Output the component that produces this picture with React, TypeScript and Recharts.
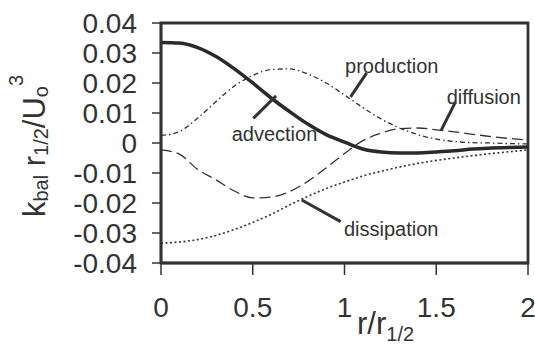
import React from 'react';
import { LineChart, Line, XAxis, YAxis, ReferenceArea, ReferenceLine, ReferenceDot } from 'recharts';

const rValues = [0, 0.1, 0.2, 0.3, 0.4, 0.5, 0.6, 0.7, 0.8, 0.9, 1.0, 1.1, 1.2, 1.3, 1.4, 1.5, 1.6, 1.7, 1.8, 1.9, 2.0];
const advection = [0.0335, 0.0333, 0.0318, 0.0288, 0.0247, 0.02, 0.015, 0.0105, 0.0063, 0.0028, 0.0003, -0.002, -0.003, -0.0033, -0.0033, -0.003, -0.0026, -0.002, -0.0017, -0.0015, -0.0013];
const production = [0.0025, 0.0038, 0.0083, 0.0138, 0.019, 0.0225, 0.0245, 0.0247, 0.023, 0.02, 0.016, 0.0118, 0.008, 0.005, 0.0028, 0.0013, 0.0005, 0.0001, 0.0, -0.0002, -0.0003];
const diffusion = [-0.0023, -0.0037, -0.0088, -0.0123, -0.016, -0.0183, -0.018, -0.0162, -0.0128, -0.0083, -0.0035, 0.0008, 0.0033, 0.0048, 0.005, 0.0044, 0.0037, 0.0029, 0.0021, 0.0015, 0.001];
const dissipation = [-0.0334, -0.033, -0.0322, -0.0308, -0.0288, -0.0265, -0.0238, -0.0207, -0.0178, -0.0152, -0.013, -0.011, -0.0094, -0.008, -0.0068, -0.0058, -0.005, -0.0042, -0.0035, -0.0029, -0.0023];

const xTicks = [0, 0.5, 1, 1.5, 2];
const yTicks = [0.04, 0.03, 0.02, 0.01, 0, -0.01, -0.02, -0.03, -0.04];

const annotLabels = ['production', 'diffusion', 'advection', 'dissipation'];
const annotAt: [number, number][] = [[1.003, 0.0234], [1.557, 0.0129], [0.385, 0.0007], [0.997, -0.031]];
const pointerFrom: [number, number][] = [[1.121, 0.0234], [1.602, 0.0134], [0.503, 0.0082], [0.979, -0.0262]];
const pointerTo: [number, number][] = [[1.033, 0.0154], [1.526, 0.0041], [0.627, 0.0157], [0.767, -0.019]];

const data = rValues.map((r, i) => ({
  r,
  advection: advection[i],
  production: production[i],
  diffusion: diffusion[i],
  dissipation: dissipation[i],
}));

const FONT = '"Liberation Sans", Arial, sans-serif';
const INK = '#333';

const AnnotText = (props: any) => {
  const vb = props.viewBox || { x: 0, y: 0 };
  return (
    <text x={vb.x} y={vb.y} fontSize={20} fontFamily={FONT} fill={INK} textAnchor="start">
      {props.text}
    </text>
  );
};

const XLabel = (props: any) => {
  const vb = props.viewBox || { x: 161, y: 263, width: 367, height: 82 };
  return (
    <text x={vb.x + 196} y={vb.y + 71} fontFamily={FONT} fill={INK} textAnchor="start">
      <tspan fontSize={31}>r/r</tspan>
      <tspan fontSize={20} dy={7}>1/2</tspan>
    </text>
  );
};

const YLabel = (props: any) => {
  const vb = props.viewBox || { x: 0, y: 23, width: 161, height: 240 };
  const cx = vb.x + 45;
  const cy = vb.y + 123;
  return (
    <text transform={`translate(${cx}, ${cy}) rotate(-90)`} x={0} y={0} fontFamily={FONT} fill={INK} textAnchor="middle">
      <tspan fontSize={31}>k</tspan>
      <tspan fontSize={20} dy={3}>bal</tspan>
      <tspan fontSize={31} dy={-3}> r</tspan>
      <tspan fontSize={20} dy={3}>1/2</tspan>
      <tspan fontSize={31} dy={-3}>/U</tspan>
      <tspan fontSize={20} dy={3}>o</tspan>
      <tspan fontSize={20} dy={-25}>3</tspan>
    </text>
  );
};

export default function App() {
  return (
    <div style={{ position: 'absolute', left: 0, top: 0, background: '#fff' }}>
      <LineChart width={535} height={345} data={data} margin={{ top: 23, right: 7, left: 0, bottom: 0 }}>
        <XAxis
          dataKey="r"
          type="number"
          domain={[0, 2]}
          ticks={xTicks}
          height={82}
          tickSize={12}
          tickMargin={22}
          stroke={INK}
          axisLine={{ stroke: INK, strokeWidth: 2.5 }}
          tickLine={{ stroke: INK, strokeWidth: 1.5 }}
          tick={{ fontSize: 28, fill: INK, fontFamily: FONT }}
          label={<XLabel />}
        />
        <YAxis
          type="number"
          domain={[-0.04, 0.04]}
          ticks={yTicks}
          width={161}
          tickSize={9}
          tickMargin={15}
          stroke={INK}
          axisLine={{ stroke: INK, strokeWidth: 2.5 }}
          tickLine={{ stroke: INK, strokeWidth: 1.5 }}
          tick={{ fontSize: 28, fill: INK, fontFamily: FONT }}
          interval={0}
          label={<YLabel />}
        />
        <ReferenceArea x1={0} x2={2} y1={-0.04} y2={0.04} fill="none" stroke={INK} strokeWidth={2.8} fillOpacity={0} />
        <Line type="monotone" dataKey="dissipation" stroke={INK} strokeWidth={1.6} strokeDasharray="2 2.5" dot={false} isAnimationActive={false} />
        <Line type="monotone" dataKey="diffusion" stroke={INK} strokeWidth={1.3} strokeDasharray="11 5" dot={false} isAnimationActive={false} />
        <Line type="monotone" dataKey="production" stroke={INK} strokeWidth={1.3} strokeDasharray="5 3 1.5 3" dot={false} isAnimationActive={false} />
        <Line type="monotone" dataKey="advection" stroke="#2a2a2a" strokeWidth={3.5} dot={false} isAnimationActive={false} />
        {annotLabels.map((t, i) => (
          <ReferenceLine
            key={'p' + t}
            segment={[{ x: pointerFrom[i][0], y: pointerFrom[i][1] }, { x: pointerTo[i][0], y: pointerTo[i][1] }]}
            stroke={INK}
            strokeWidth={3}
          />
        ))}
        {annotLabels.map((t, i) => (
          <ReferenceDot
            key={'t' + t}
            x={annotAt[i][0]}
            y={annotAt[i][1]}
            r={0}
            fill="none"
            stroke="none"
            label={<AnnotText text={t} />}
          />
        ))}
      </LineChart>
    </div>
  );
}
